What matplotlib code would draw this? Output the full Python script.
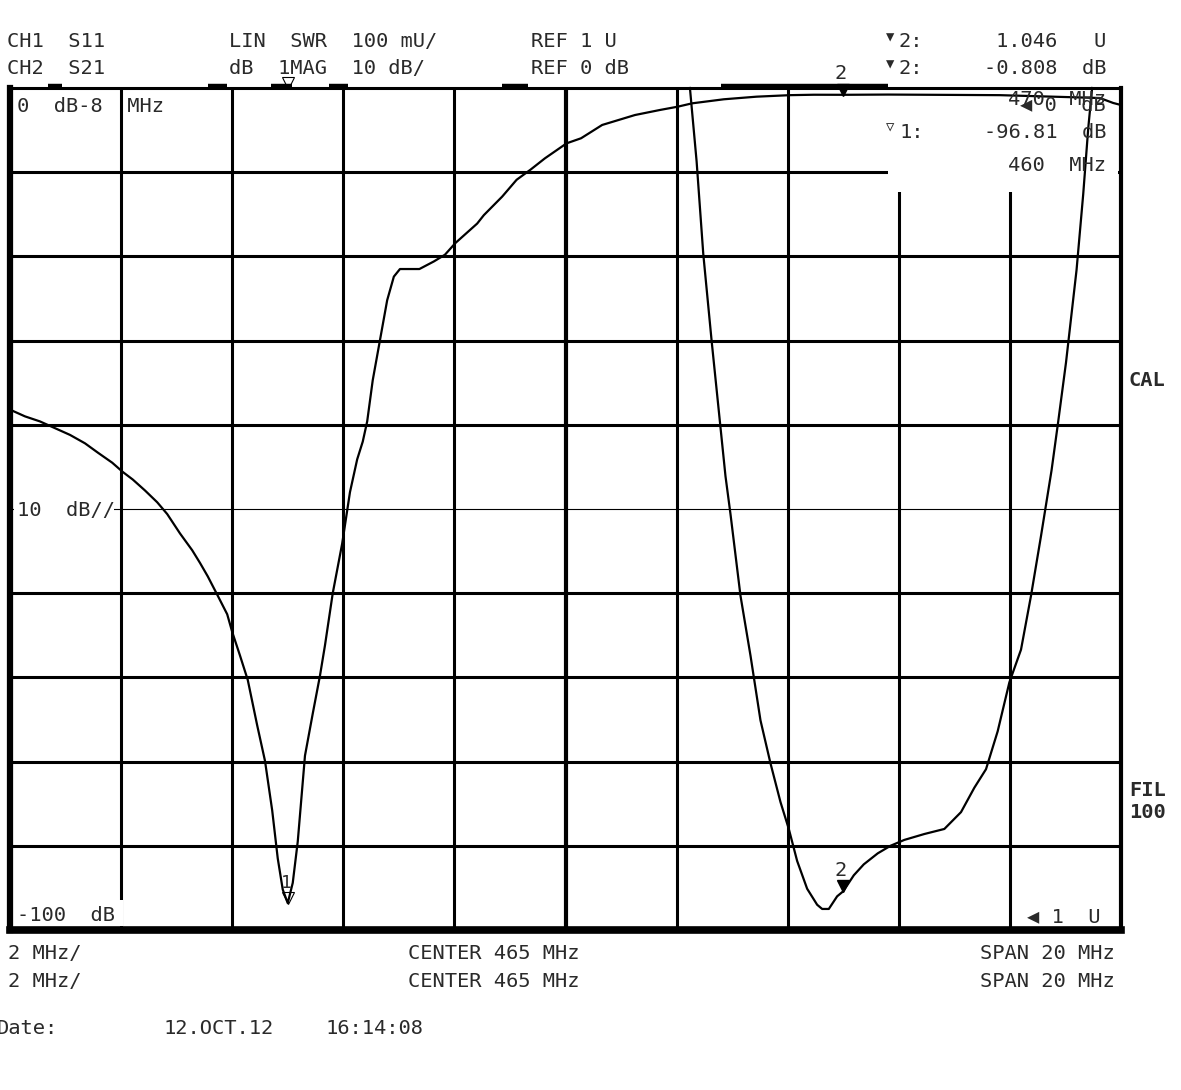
import matplotlib
matplotlib.use("Agg")
import matplotlib.pyplot as plt
from matplotlib.patches import Rectangle
from matplotlib.transforms import offset_copy

# S21 trace, 10 dB/div, ref 0 dB at top
s21_freq = [455.00, 455.27, 455.54, 455.81, 456.08, 456.35, 456.58, 456.84, 457.03, 457.21,
            457.43, 457.65, 457.83, 458.06, 458.28, 458.42, 458.56, 458.74, 458.91, 459.00,
            459.14, 459.28, 459.45, 459.59, 459.72, 459.82, 459.91, 460.00, 460.09, 460.18,
            460.31, 460.45, 460.58, 460.67, 460.81, 460.98, 461.12, 461.25, 461.35, 461.43,
            461.53, 461.79, 461.91, 462.02, 462.37, 462.63, 462.83, 463.02, 463.41, 463.53,
            463.86, 464.12, 464.37, 464.63, 465.02, 465.28, 465.66, 466.25, 466.70, 467.02,
            467.28, 467.85, 468.44, 469.04, 469.47, 470.00, 470.81, 472.82, 474.62, 474.86,
            475.00]
s21_db = [-38.2, -39.0, -39.6, -40.4, -41.2, -42.2, -43.3, -44.5, -45.6, -46.5,
          -47.8, -49.2, -50.6, -52.9, -54.9, -56.4, -58.0, -60.3, -62.5, -64.6,
          -67.4, -70.3, -75.7, -79.9, -85.8, -91.5, -95.2, -96.81, -94.4, -89.5,
          -79.3, -74.3, -69.8, -66.2, -60.0, -54.1, -48.0, -44.1, -42.0, -39.6,
          -34.7, -25.2, -22.4, -21.5, -21.5, -20.6, -19.8, -18.4, -16.1, -15.1,
          -12.9, -10.9, -9.7, -8.35, -6.57, -5.97, -4.39, -3.21, -2.61, -2.22,
          -1.82, -1.34, -1.03, -0.85, -0.80, -0.808, -0.78, -0.85, -1.19, -1.78,
          -2.02]

# S11 as SWR, 100 mU/div, ref 1 U at bottom
swr_freq = [467.24, 467.36, 467.48, 467.63, 467.79, 467.88, 467.97, 468.15, 468.33, 468.51,
            468.69, 468.87, 469.02, 469.17, 469.35, 469.53, 469.62, 469.74, 469.89, 470.00,
            470.19, 470.37, 470.62, 470.85, 471.10, 471.46, 471.82, 472.12, 472.36, 472.57,
            472.78, 472.99, 473.20, 473.38, 473.56, 473.75, 473.87, 474.01, 474.20, 474.32,
            474.41, 474.48]
swr_val = [2.0, 1.913, 1.803, 1.700, 1.597, 1.539, 1.494, 1.397, 1.326, 1.249,
           1.198, 1.152, 1.120, 1.082, 1.049, 1.030, 1.025, 1.025, 1.040, 1.046,
           1.065, 1.078, 1.091, 1.100, 1.107, 1.114, 1.120, 1.140, 1.169, 1.191,
           1.236, 1.294, 1.333, 1.397, 1.468, 1.546, 1.604, 1.674, 1.784, 1.874,
           1.952, 2.0]

# spans where the SWR trace is off-screen and sits on the top edge
swr_clip_spans = [(455.68, 455.94), (458.56, 458.91), (459.70, 460.08),
                  (460.74, 461.08), (463.86, 464.32), (467.80, 470.81)]

markers = [(460.0, -96.81, 1.0), (470.0, -0.808, 1.046)]

W, H = 1181, 1090
MONO = ['DejaVu Sans Mono', 'DejaVu Sans']
INK = '#2a2a2a'

fig = plt.figure(figsize=(W / 100, H / 100), dpi=100)
ax = fig.add_axes([10 / W, 1 - 930 / H, 1111 / W, 842 / H])
ax.set_xlim(455, 475)
ax.set_ylim(-100, 0)
ax.axis('off')

# graticule
for f in range(457, 475, 2):
    ax.axvline(f, color='black', lw=3.0 if f == 465 else 2.2, zorder=1)
for d in range(-90, 0, 10):
    if d == -50:
        ax.axhline(d, color='black', lw=0.8, zorder=1)
    else:
        ax.axhline(d, color='black', lw=2.2, zorder=1)

# blanked areas behind annotations
ax.add_patch(Rectangle((470.80, -12.35), 4.14, 12.35, fc='white', ec='none', zorder=2))
ax.add_patch(Rectangle((455.04, -99.5), 2.0, 3.06, fc='white', ec='none', zorder=2))
ax.add_patch(Rectangle((455.07, -51.1), 1.8, 2.2, fc='white', ec='none', zorder=2))

# frame
ax.axvline(455, color='black', lw=4.5, zorder=5, clip_on=False)
ax.axvline(475, color='black', lw=3.0, zorder=5, clip_on=False)
ax.axhline(-100, color='black', lw=5.5, zorder=5, clip_on=False)
ax.axhline(0, color='black', lw=2.2, zorder=5, clip_on=False)

ax.plot(s21_freq, s21_db, color='black', lw=1.6, zorder=3)

ax2 = ax.twinx()
ax2.set_ylim(1, 2)
ax2.axis('off')
ax2.plot(swr_freq, swr_val, color='black', lw=1.6, zorder=3, clip_on=False)
up2 = offset_copy(ax2.transData, fig=fig, x=0, y=2, units='dots')
for a, b in swr_clip_spans:
    ax2.plot([a, b], [2.0, 2.0], color='black', lw=3.2, transform=up2, clip_on=False,
             solid_capstyle='butt')

# markers
up4 = offset_copy(ax.transData, fig=fig, x=0, y=5, units='dots')
up4b = offset_copy(ax2.transData, fig=fig, x=0, y=5, units='dots')
m1, m2 = markers
ax.plot(m1[0], m1[1], marker='v', ms=8, mfc='none', mec='black', mew=0.8,
        transform=up4, clip_on=False)
ax.annotate('1', (m1[0], m1[1]), xytext=(-2, 15), textcoords='offset pixels',
            ha='center', va='baseline', fontsize=13, family=MONO, color=INK)
ax.plot(m1[0], 0, marker='v', ms=8, mfc='none', mec='black', mew=0.8,
        transform=up4, clip_on=False)
ax.plot(m2[0], m2[1], marker='v', ms=8, color='black', transform=up4, clip_on=False)
ax.annotate('2', (m2[0], m2[1]), xytext=(-3, 16), textcoords='offset pixels',
            ha='center', va='baseline', fontsize=14.7, family=MONO, color=INK,
            annotation_clip=False)
ax2.plot(m2[0], m2[2], marker='v', ms=8, color='black', transform=up4b, clip_on=False)
ax2.annotate('2', (m2[0], m2[2]), xytext=(-3, 15), textcoords='offset pixels',
             ha='center', va='baseline', fontsize=14.7, family=MONO, color=INK)


def txt(x, y, s, size=14.7, **kw):
    fig.text(x / W, 1 - y / H, s, family=MONO, fontsize=size, va='baseline',
             color=INK, **kw)


txt(7, 47, "CH1  S11")
txt(7, 74, "CH2  S21")
txt(229, 47, "LIN  SWR  100 mU/")
txt(229, 74, "dB  1MAG  10 dB/")
txt(531, 47, "REF 1 U")
txt(531, 74, "REF 0 dB")

txt(886, 41, "\u25bc", size=10)
txt(899, 47, "2:")
txt(1106, 47, "1.046   U", ha='right')
txt(886, 68, "\u25bc", size=10)
txt(899, 74, "2:")
txt(1106, 74, "-0.808  dB", ha='right')
txt(1106, 105, "470  MHz", ha='right')
txt(1106, 110, "\u25c0 0  dB", ha='right')
txt(886, 132, "\u25bd", size=10)
txt(899, 138, "1:")
txt(1106, 138, "-96.81  dB", ha='right')
txt(1106, 171, "460  MHz", ha='right')

txt(17, 112, "0  dB-8  MHz")
txt(17, 516, "10  dB//")
txt(17, 921, "-100  dB")
txt(1027, 922, "\u25c0 1  U")

txt(1129, 386, "CAL", weight='bold')
txt(1129, 796, "FIL", weight='bold')
txt(1129, 818, "100", weight='bold')

txt(8, 959, "2 MHz/")
txt(8, 987, "2 MHz/")
txt(408, 959, "CENTER 465 MHz")
txt(408, 987, "CENTER 465 MHz")
txt(980, 959, "SPAN 20 MHz")
txt(980, 987, "SPAN 20 MHz")
txt(-3, 1034, "Date:")
txt(163, 1034, "12.OCT.12")
txt(326, 1034, "16:14:08")

fig.savefig("out.png", dpi=100, facecolor='white')
